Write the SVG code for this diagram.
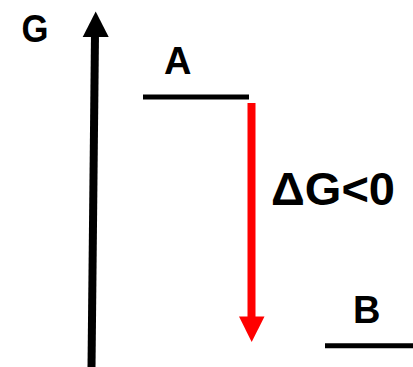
<svg xmlns="http://www.w3.org/2000/svg" width="413" height="367" viewBox="0 0 413 367">
<style>
text{font-family:"Liberation Sans",Arial,sans-serif;font-weight:bold;fill:#000}
.lvl{stroke:#000;stroke-width:5;fill:none}
</style>
<rect width="413" height="367" fill="#fff"/>
<g id="axis">
<line x1="91.5" y1="367" x2="95" y2="34" stroke="#000" stroke-width="8"/>
<polygon points="95.7,11.5 108.7,37 82.7,37" fill="#000"/>
<text x="21.5" y="41.5" font-size="38" textLength="27" lengthAdjust="spacingAndGlyphs">G</text>
</g>
<g id="A">
<line class="lvl" x1="143" y1="97" x2="249" y2="97"/>
<text x="164" y="73.5" font-size="38">A</text>
</g>
<g id="B">
<line class="lvl" x1="325" y1="345.8" x2="413" y2="345.8"/>
<text x="353" y="322.5" font-size="38">B</text>
</g>
<g id="connectors">
<line x1="251.5" y1="103" x2="251.5" y2="318" stroke="#f00" stroke-width="8"/>
<polygon points="251.7,342 264.5,316.5 239,316.5" fill="#f00"/>
<text x="271" y="204.5" font-size="46" textLength="124" lengthAdjust="spacingAndGlyphs">ΔG&lt;0</text>
</g>
</svg>
